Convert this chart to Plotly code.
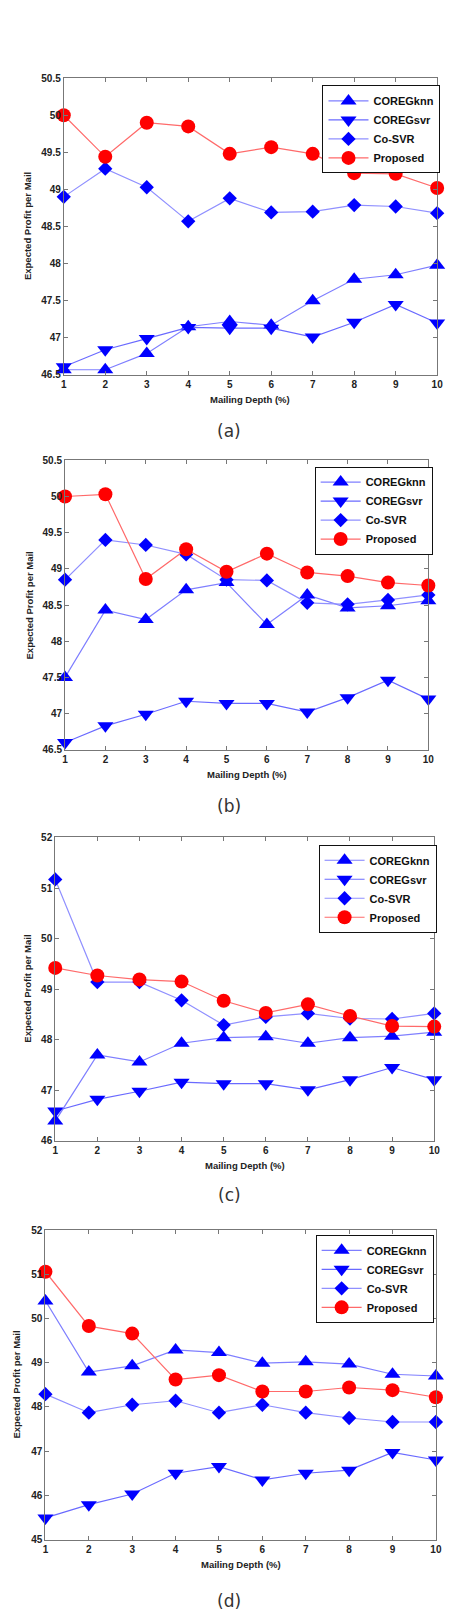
import plotly.graph_objects as go

W, H = 451, 1620
depth = [1, 2, 3, 4, 5, 6, 7, 8, 9, 10]
series_names = ["COREGknn", "COREGsvr", "Co-SVR", "Proposed"]

# Panel (a)
a_coregknn = [46.57, 46.57, 46.79, 47.15, 47.22, 47.17, 47.50, 47.79, 47.85, 47.98]
a_coregsvr = [46.61, 46.84, 46.99, 47.14, 47.13, 47.13, 47.01, 47.21, 47.45, 47.20]
a_cosvr = [48.90, 49.28, 49.03, 48.57, 48.88, 48.69, 48.70, 48.79, 48.77, 48.68]
a_proposed = [50.00, 49.44, 49.90, 49.85, 49.48, 49.57, 49.48, 49.22, 49.21, 49.02]

# Panel (b)
b_coregknn = [47.50, 48.43, 48.30, 48.71, 48.81, 48.23, 48.64, 48.46, 48.49, 48.56]
b_coregsvr = [46.60, 46.83, 46.99, 47.17, 47.14, 47.14, 47.02, 47.22, 47.46, 47.20]
b_cosvr = [48.85, 49.40, 49.33, 49.20, 48.85, 48.84, 48.53, 48.51, 48.57, 48.64]
b_proposed = [50.00, 50.03, 48.86, 49.27, 48.96, 49.21, 48.95, 48.90, 48.81, 48.77]

# Panel (c)
c_coregknn = [46.39, 47.70, 47.56, 47.93, 48.04, 48.06, 47.93, 48.04, 48.07, 48.15]
c_coregsvr = [46.59, 46.82, 46.98, 47.16, 47.13, 47.13, 47.01, 47.21, 47.45, 47.21]
c_cosvr = [51.17, 49.14, 49.14, 48.78, 48.29, 48.45, 48.52, 48.42, 48.41, 48.52]
c_proposed = [49.42, 49.27, 49.19, 49.15, 48.77, 48.53, 48.70, 48.47, 48.27, 48.26]

# Panel (d)
d_coregknn = [50.40, 48.79, 48.93, 49.29, 49.23, 48.99, 49.02, 48.97, 48.74, 48.70]
d_coregsvr = [45.49, 45.79, 46.03, 46.50, 46.65, 46.35, 46.50, 46.57, 46.97, 46.80]
d_cosvr = [48.29, 47.87, 48.05, 48.14, 47.87, 48.05, 47.87, 47.75, 47.66, 47.66]
d_proposed = [51.06, 49.83, 49.66, 48.62, 48.72, 48.35, 48.35, 48.44, 48.38, 48.22]

panel_labels = ["(a)", "(b)", "(c)", "(d)"]
panel_data = [
    [a_coregknn, a_coregsvr, a_cosvr, a_proposed],
    [b_coregknn, b_coregsvr, b_cosvr, b_proposed],
    [c_coregknn, c_coregsvr, c_cosvr, c_proposed],
    [d_coregknn, d_coregsvr, d_cosvr, d_proposed],
]
y_ranges = [[46.5, 50.5], [46.5, 50.5], [46, 52], [45, 52]]
y_dticks = [0.5, 0.5, 1, 1]
x_title = "Mailing Depth (%)"
y_title = "Expected Profit per Mail"

# layout geometry (pixels)
plot_boxes = [  # left, right, top, bottom
    (62, 443, 72.7, 371.7),
    (63.3, 434, 457.7, 749.3),
    (53.3, 440, 837.7, 1143.3),
    (43.3, 441.7, 1233.3, 1545),
]
legend_pos = [(326, 80), (318, 464), (322, 845), (319, 1238)]
ytitle_x = [25, 27, 25, 14]
label_y = [428, 806, 1198, 1607]

symbols = ["triangle-up", "triangle-down", "diamond", "circle"]
marker_colors = ["#0000ff", "#0000ff", "#0000ff", "#ff0000"]
line_colors = ["#7f7fff", "#6a6aff", "#9090ff", "#ff6a6a"]
marker_sizes = [14, 14, 11, 14]

def px_x(v):
    return v / W

def px_y(v):
    return 1 - v / H

fig = go.Figure()
annotations = []
layout_updates = {}
tick_font = dict(family="Liberation Sans, Arial", size=10, color="#222", weight="bold")

for i in range(4):
    n = "" if i == 0 else str(i + 1)
    L, R, T, B = plot_boxes[i]
    for j in range(4):
        fig.add_trace(go.Scatter(
            x=depth, y=panel_data[i][j], name=series_names[j],
            mode="lines+markers", cliponaxis=False,
            line=dict(color=line_colors[j], width=1.2),
            marker=dict(symbol=symbols[j], size=marker_sizes[j], color=marker_colors[j],
                        line=dict(width=0)),
            xaxis="x" + n, yaxis="y" + n,
            legend="legend" + n,
        ))
    layout_updates["xaxis" + n] = dict(
        domain=[px_x(L), px_x(R)], anchor="y" + n, range=[1, 10], dtick=1, tick0=1,
        showgrid=False, zeroline=False, showline=True, linecolor="#777", linewidth=1,
        mirror="ticks", ticks="inside", ticklen=4, tickcolor="#777",
        tickfont=tick_font,
    )
    layout_updates["yaxis" + n] = dict(
        domain=[px_y(B), px_y(T)], anchor="x" + n, range=y_ranges[i], dtick=y_dticks[i],
        tick0=y_ranges[i][0],
        showgrid=False, zeroline=False, showline=True, linecolor="#777", linewidth=1,
        mirror="ticks", ticks="inside", ticklen=4, tickcolor="#777",
        tickfont=tick_font,
    )
    lx, ly = legend_pos[i]
    layout_updates["legend" + n] = dict(
        x=px_x(lx), y=px_y(ly), xanchor="left", yanchor="top",
        bgcolor="white", bordercolor="#111", borderwidth=1,
        font=dict(family="Liberation Sans, Arial", size=11, color="#111", weight="bold"),
        itemwidth=40, tracegroupgap=0,
    )
    annotations.append(dict(
        text=x_title, x=px_x((L + R) / 2), y=px_y(B + 25), xref="paper", yref="paper",
        showarrow=False, xanchor="center", yanchor="middle",
        font=dict(family="Liberation Sans, Arial", size=9.5, color="#222", weight="bold"),
    ))
    annotations.append(dict(
        text=y_title, x=px_x(ytitle_x[i]), y=px_y((T + B) / 2), xref="paper", yref="paper",
        showarrow=False, xanchor="center", yanchor="middle", textangle=-90,
        font=dict(family="Liberation Sans, Arial", size=9.5, color="#222", weight="bold"),
    ))
    annotations.append(dict(
        text=panel_labels[i], x=px_x(231), y=px_y(label_y[i]), xref="paper", yref="paper",
        showarrow=False, xanchor="center", yanchor="middle",
        font=dict(family="DejaVu Sans, Noto Sans", size=17, color="#333"),
    ))

fig.update_layout(
    width=W, height=H, margin=dict(l=0, r=0, t=0, b=0),
    paper_bgcolor="white", plot_bgcolor="white",
    annotations=annotations, **layout_updates,
)

fig.write_html("out.html")
